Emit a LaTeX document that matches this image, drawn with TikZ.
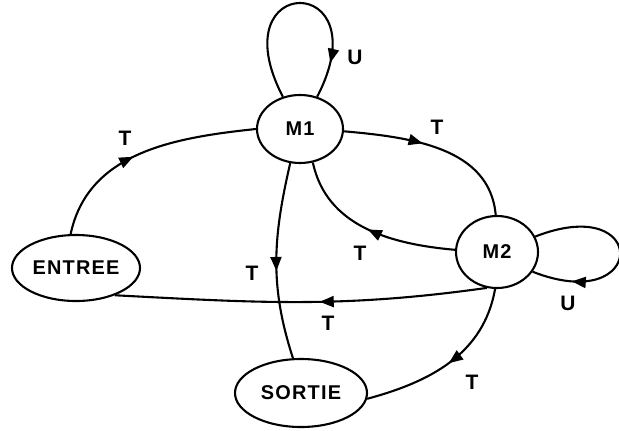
\documentclass[tikz,border=0pt]{standalone}
\usepackage{fontspec}
\setmainfont{Liberation Sans}
\usepackage{tikz}
\usetikzlibrary{arrows.meta, shapes.geometric, decorations.markings}

\begin{document}
\begin{tikzpicture}[x=1bp, y=1bp, line width=2.1pt,
    st/.style={ellipse, draw, inner sep=0pt,
               font=\fontsize{20}{22}\selectfont\bfseries\addfontfeature{LetterSpace=6}},
    lb/.style={font=\fontsize{21}{22}\selectfont\bfseries},
    mid/.style={postaction={decorate, decoration={markings,
                mark=at position #1 with {\arrow{Triangle[length=14bp, width=11bp]}}}}}]
  \useasboundingbox (0,0) rectangle (619,430);
  % states
  \node[st, minimum width=86bp, minimum height=68bp] (m1) at (300,301) {M1};
  \node[st, minimum width=82bp, minimum height=72bp] (m2) at (497,178) {M2};
  \node[st, minimum width=128bp, minimum height=66bp] (ent) at (76,162) {ENTREE};
  \node[st, minimum width=132bp, minimum height=68bp] (sor) at (301,37) {SORTIE};
  % transitions
  \draw[mid=0.45] (ent.99) to[out=78, in=186] (m1.west);
  \draw[mid=0.42] (m1.-3) to[out=-5, in=95] (m2.92);
  \draw[mid=0.5] (m2.177) to[out=175, in=-78] (m1.-69);
  \draw[mid=0.55] (m1.-106) to[out=-103, in=108] (sor.103);
  \draw[mid=0.45] (m2.-106) to[out=188, in=-3] (ent.-35);
  \draw[mid=0.5] (m2.-93) to[out=-100, in=15] (sor.-5);
  % loops
  \draw[mid=0.84] (m1.118) .. controls +(-65,125) and +(65,125) .. (m1.62);
  \draw[mid=0.8] (m2.22) .. controls +(115,45) and +(115,-45) .. (m2.-29);
  % labels
  \node[lb] (u1) at (355,373) {U};
  \node[lb] (u2) at (568,127) {U};
  \node[lb] (t1) at (125,292) {T};
  \node[lb] (t2) at (437,303) {T};
  \node[lb] (t3) at (360,177) {T};
  \node[lb] (t4) at (252,157) {T};
  \node[lb] (t5) at (328,107) {T};
  \node[lb] (t6) at (472,48) {T};
\end{tikzpicture}
\end{document}
